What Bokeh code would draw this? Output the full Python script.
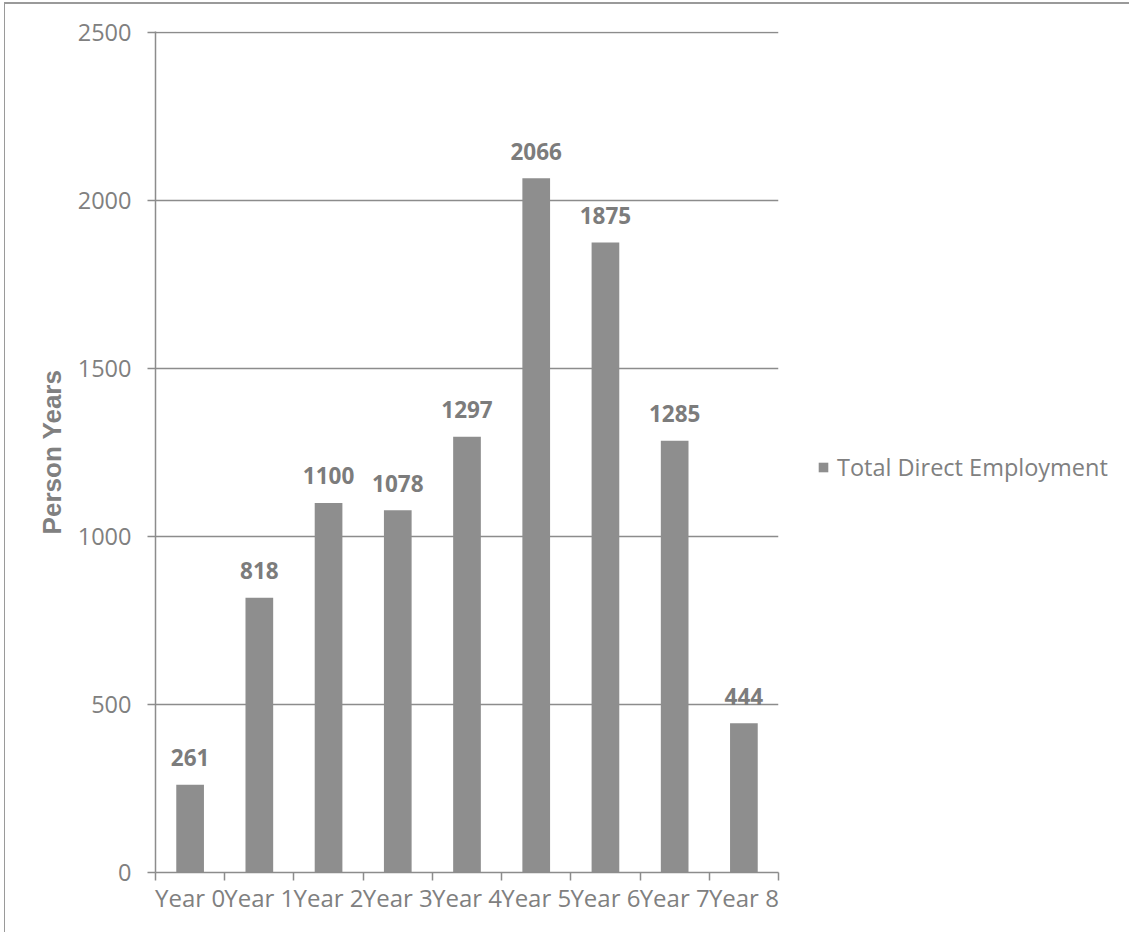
from bokeh.plotting import figure
from bokeh.models import ColumnDataSource, Range1d, FixedTicker, Legend, LegendItem
from bokeh.core.properties import value
from bokeh.embed import file_html
from bokeh.resources import INLINE

categories = ["Year 0", "Year 1", "Year 2", "Year 3", "Year 4", "Year 5", "Year 6", "Year 7", "Year 8"]
employment = [261, 818, 1100, 1078, 1297, 2066, 1875, 1285, 444]
y_ticks = [0, 500, 1000, 1500, 2000, 2500]
series_name = "Total Direct Employment"

BAR = "#8E8E8E"
GRID = "#8C8C8C"
TXT = "#808080"
LBL = "#7C7C7C"

n = len(categories)
centers = [i + 0.5 for i in range(n)]
src = ColumnDataSource(dict(x=centers, y=employment, label=[str(v) for v in employment]))

p = figure(frame_width=623, frame_height=841,
           x_range=Range1d(0, n), y_range=Range1d(0, 2503),
           output_backend="svg", toolbar_location=None,
           min_border_left=150, min_border_top=27, min_border_bottom=60, min_border_right=340)
p.styles = {"margin-left": "4px", "margin-top": "2px",
            "border-left": "1px solid #9a9a9a", "border-top": "2px solid #9a9a9a"}
p.outline_line_color = None
p.background_fill_color = "white"
p.border_fill_color = "white"

r = p.vbar(x="x", top="y", width=0.4, source=src, fill_color=BAR, line_color=None)

p.text(x="x", y="y", text="label", source=src, text_align="center", text_baseline="alphabetic",
       y_offset=-27, text_font=value("Open Sans"), text_font_style="bold",
       text_font_size="22.5px", text_color=LBL)

# x axis
p.xaxis.ticker = FixedTicker(ticks=centers, minor_ticks=list(range(n + 1)))
p.xaxis.major_label_overrides = {c: lab for c, lab in zip(centers, categories)}
p.xaxis.major_tick_out = 0
p.xaxis.major_tick_in = 0
p.xaxis.minor_tick_out = 8
p.xaxis.minor_tick_in = 0
p.xaxis.minor_tick_line_color = GRID
p.xaxis.minor_tick_line_width = 1.5
p.xaxis.axis_line_color = GRID
p.xaxis.axis_line_width = 1.5
p.xaxis.major_label_text_font = "Open Sans"
p.xaxis.major_label_text_font_size = "24px"
p.xaxis.major_label_text_color = TXT
p.xaxis.major_label_standoff = 0
p.xgrid.grid_line_color = None

# y axis
p.yaxis.ticker = FixedTicker(ticks=y_ticks, minor_ticks=[])
p.yaxis.major_tick_out = 8
p.yaxis.major_tick_in = 0
p.yaxis.major_tick_line_color = GRID
p.yaxis.major_tick_line_width = 1.5
p.yaxis.axis_line_color = GRID
p.yaxis.axis_line_width = 1.5
p.yaxis.major_label_text_font = "Open Sans"
p.yaxis.major_label_text_font_size = "23.5px"
p.yaxis.major_label_text_color = TXT
p.yaxis.major_label_standoff = 16
p.yaxis.axis_label = "Person Years"
p.yaxis.axis_label_text_font = "Liberation Sans"
p.yaxis.axis_label_text_font_style = "bold"
p.yaxis.axis_label_text_font_size = "26px"
p.yaxis.axis_label_text_color = TXT
p.yaxis.axis_label_standoff = 8
p.ygrid.ticker = FixedTicker(ticks=y_ticks)
p.ygrid.grid_line_color = GRID
p.ygrid.grid_line_width = 1.5

legend = Legend(items=[LegendItem(label=series_name, renderers=[r])],
                location=(39, 389), orientation="vertical",
                label_text_font="Open Sans", label_text_font_size="23.5px",
                label_text_color=TXT, glyph_width=12, glyph_height=12,
                label_standoff=8, padding=0, margin=0, spacing=0,
                border_line_color=None, background_fill_alpha=0)
p.add_layout(legend, "right")

open("out.html", "w").write(file_html(p, INLINE))
